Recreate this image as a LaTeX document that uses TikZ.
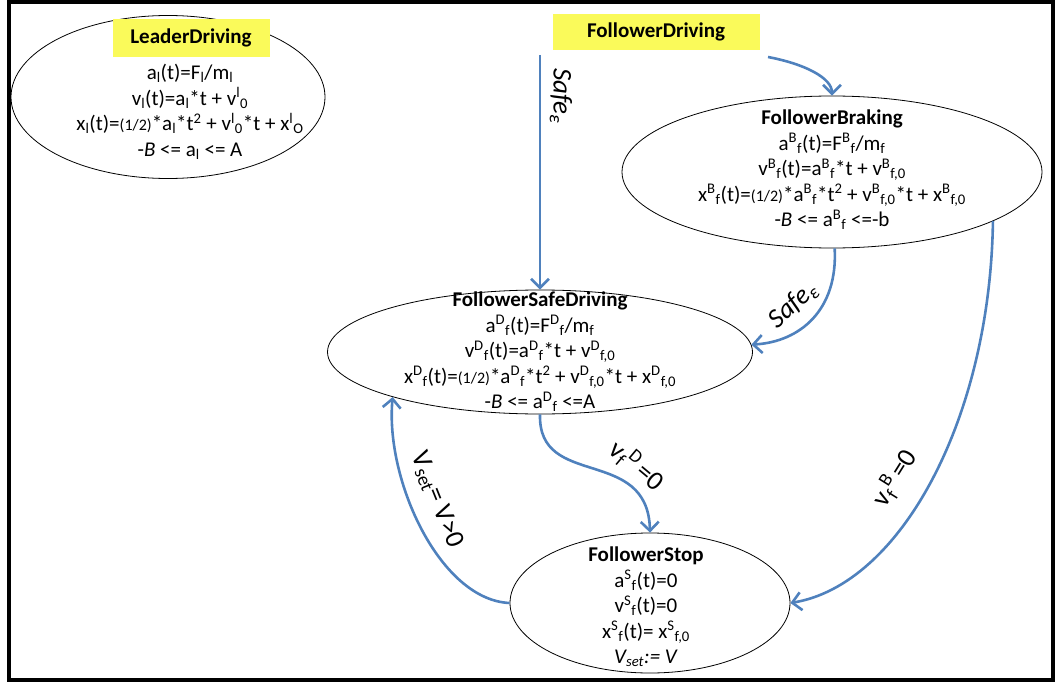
\documentclass[tikz,border=0pt]{standalone}
\usepackage{fontspec}
\setmainfont{Carlito}
\usetikzlibrary{arrows.meta,shapes.geometric}

\definecolor{flowblue}{RGB}{79,129,189}
\definecolor{hiyellow}{RGB}{250,250,90}

% sub/superscript helpers for the state equations
\newcommand\sbx[1]{\textsubscript{#1}}
\newcommand\spx[1]{\textsuperscript{#1}}
\newcommand\halfterm{{\fontsize{16}{16}\selectfont(1/2)}}

\tikzset{
  state/.style={draw=black, line width=0.8pt, ellipse, inner sep=0pt},
  eqs/.style={align=center, font=\fontsize{21}{25.5}\selectfont, inner sep=0pt},
  hilite/.style={fill=hiyellow, font=\bfseries\fontsize{21}{22}\selectfont, inner sep=0pt},
  flow/.style={draw=flowblue, line width=2.6pt, -{Straight Barb[length=9pt,width=18pt]}},
  guard/.style={font=\fontsize{27}{28}\selectfont, inner sep=0pt}
}

\begin{document}
\setlength{\lineskiplimit}{-40pt}
\begin{tikzpicture}[x=1pt,y=-1pt]
\useasboundingbox (0,0) rectangle (1055,685);
\draw[line width=4pt] (9,2) rectangle (1053,680);

% leader state
\node[state, minimum width=314pt, minimum height=163pt] (ld) at (168,97) {};
\node[hilite, minimum width=157pt, minimum height=38pt] (ldT) at (191,38) {LeaderDriving};
\node[eqs] (ldX) at (190,112) {
  a\sbx{l}(t)=F\sbx{l}/m\sbx{l}\\
  v\sbx{l}(t)=a\sbx{l}*t + v\spx{l}\sbx{0}\\
  x\sbx{l}(t)=\halfterm*a\sbx{l}*t\spx{2} + v\spx{l}\sbx{0}*t + x\spx{l}\sbx{O}\\
  -\textit{B} <= a\sbx{l} <= A};

% follower states
\node[hilite, minimum width=207pt, minimum height=36pt] (fd) at (656,32) {FollowerDriving};

\node[state, minimum width=420pt, minimum height=152pt] (br) at (832,172) {};
\node[eqs] (brX) at (832,170) {
  \textbf{FollowerBraking}\\
  a\spx{B}\sbx{f}(t)=F\spx{B}\sbx{f}/m\sbx{f}\\
  v\spx{B}\sbx{f}(t)=a\spx{B}\sbx{f}*t + v\spx{B}\sbx{f,0}\\
  x\spx{B}\sbx{f}(t)=\halfterm*a\spx{B}\sbx{f}*t\spx{2} + v\spx{B}\sbx{f,0}*t + x\spx{B}\sbx{f,0}\\
  -\textit{B} <= a\spx{B}\sbx{f} <=-b};

\node[state, minimum width=425pt, minimum height=124pt] (sd) at (540,352) {};
\node[eqs] (sdX) at (540,352) {
  \textbf{FollowerSafeDriving}\\
  a\spx{D}\sbx{f}(t)=F\spx{D}\sbx{f}/m\sbx{f}\\
  v\spx{D}\sbx{f}(t)=a\spx{D}\sbx{f}*t + v\spx{D}\sbx{f,0}\\
  x\spx{D}\sbx{f}(t)=\halfterm*a\spx{D}\sbx{f}*t\spx{2} + v\spx{D}\sbx{f,0}*t + x\spx{D}\sbx{f,0}\\
  -\textit{B} <= a\spx{D}\sbx{f} <=A};

\node[state, minimum width=280pt, minimum height=140pt] (st) at (650,603) {};
\node[eqs] (stX) at (646,607) {
  \textbf{FollowerStop}\\
  a\spx{S}\sbx{f}(t)=0\\
  v\spx{S}\sbx{f}(t)=0\\
  x\spx{S}\sbx{f}(t)= x\spx{S}\sbx{f,0}\\
  \textit{V\sbx{set}:= V}};

% transitions
\coordinate (fdA) at (540,55);
\coordinate (fdB) at (768,57);

\draw[flow] (fdA) -- (sd.north);
\draw[flow] (fdB) .. controls (805,64) and (832,78) .. (br.north);
\draw[flow] (br.-88) .. controls (838,310) and (800,342) .. (sd.2);
\draw[flow] (br.-17) .. controls (990,420) and (900,585) .. (st.east);
\draw[flow] (sd.south) .. controls (538,490) and (648,445) .. (st.north);
\draw[flow] (st.west) .. controls (440,600) and (385,480) .. (sd.197);

% guards
\node[guard, rotate=-90] (g1) at (561,96) {\textit{Safe\sbx{ε}}};
\node[guard, rotate=42] (g2) at (793,305) {\textit{Safe\sbx{ε}}};
\node[guard, rotate=58] (g3) at (895,478) {v\sbx{f}\spx{B}\,=0};
\node[guard, rotate=-40] (g4) at (637,466) {v\sbx{f}\spx{D}\,=0};
\node[guard, rotate=-68] (g5) at (437,500) {V\sbx{set}= V>0};
\end{tikzpicture}
\end{document}
